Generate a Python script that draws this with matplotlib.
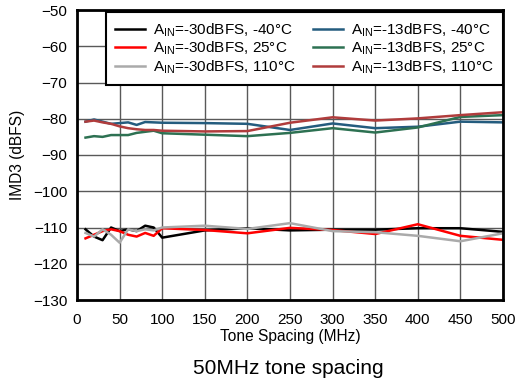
import matplotlib
matplotlib.use('Agg')
import matplotlib.pyplot as plt

plt.rcParams['font.family'] = ['Liberation Sans', 'DejaVu Sans']
plt.rcParams['mathtext.fontset'] = 'custom'
plt.rcParams['mathtext.rm'] = 'Liberation Sans'

# Tone spacing (MHz)
spacing = [10, 20, 30, 40, 50, 60, 70, 80, 90, 100, 150, 200, 250, 300, 350, 400, 450, 500]

# IMD3 (dBFS), AIN = -30 dBFS
low_m40 = [-110.5, -112.5, -113.5, -110, -111, -110.5, -111, -109.5, -110, -112.8,
           -110.8, -110.2, -110.8, -110.6, -110.6, -110.2, -110.2, -111.2]
low_25 = [-113, -112, -111, -110.5, -111, -112, -112.5, -111.5, -112.3, -110.2,
          -110.7, -111.6, -110.1, -110.7, -111.8, -109.1, -112.3, -113.4]
low_110 = [-111.5, -112.5, -110.5, -112, -114.2, -110.5, -111, -110.5, -110.8, -110,
           -109.5, -110.4, -108.8, -111, -111.3, -112.3, -113.8, -111.6]

# IMD3 (dBFS), AIN = -13 dBFS
high_m40 = [-80.8, -80.2, -80.8, -81.4, -81.2, -81, -81.7, -80.9, -81, -81.1,
            -81.2, -81.4, -83.1, -81.3, -82.6, -82.2, -80.8, -81]
high_25 = [-85.2, -84.8, -85, -84.5, -84.5, -84.5, -83.9, -83.6, -83.3, -84,
           -84.4, -84.8, -83.9, -82.6, -83.8, -82.4, -79.5, -79]
high_110 = [-80.8, -80.5, -81, -81.4, -82.1, -82.6, -82.9, -83.1, -83.1, -83.3,
            -83.5, -83.4, -81.1, -79.6, -80.5, -79.9, -79, -78.2]

series = [
    (low_m40, 'black', r'A$_{\mathregular{IN}}$=-30dBFS, -40°C'),
    (low_25, '#ff0000', r'A$_{\mathregular{IN}}$=-30dBFS, 25°C'),
    (low_110, '#aaaaaa', r'A$_{\mathregular{IN}}$=-30dBFS, 110°C'),
    (high_m40, '#245c7e', r'A$_{\mathregular{IN}}$=-13dBFS, -40°C'),
    (high_25, '#2d7152', r'A$_{\mathregular{IN}}$=-13dBFS, 25°C'),
    (high_110, '#b03c3c', r'A$_{\mathregular{IN}}$=-13dBFS, 110°C'),
]

fig = plt.figure(figsize=(5.21, 3.83), dpi=100)
ax = fig.add_axes([77 / 521, 1 - 300 / 383, 426 / 521, 290 / 383])

for vals, col, lab in series:
    ax.plot(spacing, vals, color=col, lw=1.8, label=lab)

ax.set_xlim(0, 500)
ax.set_ylim(-130, -50)
ax.set_xticks(range(0, 501, 50))
ax.set_yticks(range(-130, -49, 10))
ax.grid(True, color='0.35', lw=1)
ax.set_axisbelow(True)
ax.tick_params(length=0, labelsize=11)
ax.tick_params(axis='x', pad=9)
ax.tick_params(axis='y', pad=7)
for s in ax.spines.values():
    s.set_linewidth(2)
ax.set_xlabel('Tone Spacing (MHz)', fontsize=11.2, labelpad=2)
ax.set_ylabel('IMD3 (dBFS)', fontsize=11.2, labelpad=6)

leg = ax.legend(ncol=2, loc='upper right', bbox_to_anchor=(1.0, 0.993),
                fontsize=11, frameon=True, fancybox=False, framealpha=1,
                handlelength=2.0, handletextpad=0.5, columnspacing=1.1,
                labelspacing=0.05, borderpad=0.6, borderaxespad=0)
leg.get_frame().set_edgecolor('black')
leg.get_frame().set_linewidth(1.5)

fig.text(288 / 521, 1 - 368 / 383, '50MHz tone spacing', ha='center', va='center', fontsize=15)

fig.savefig('out.png', dpi=100)
